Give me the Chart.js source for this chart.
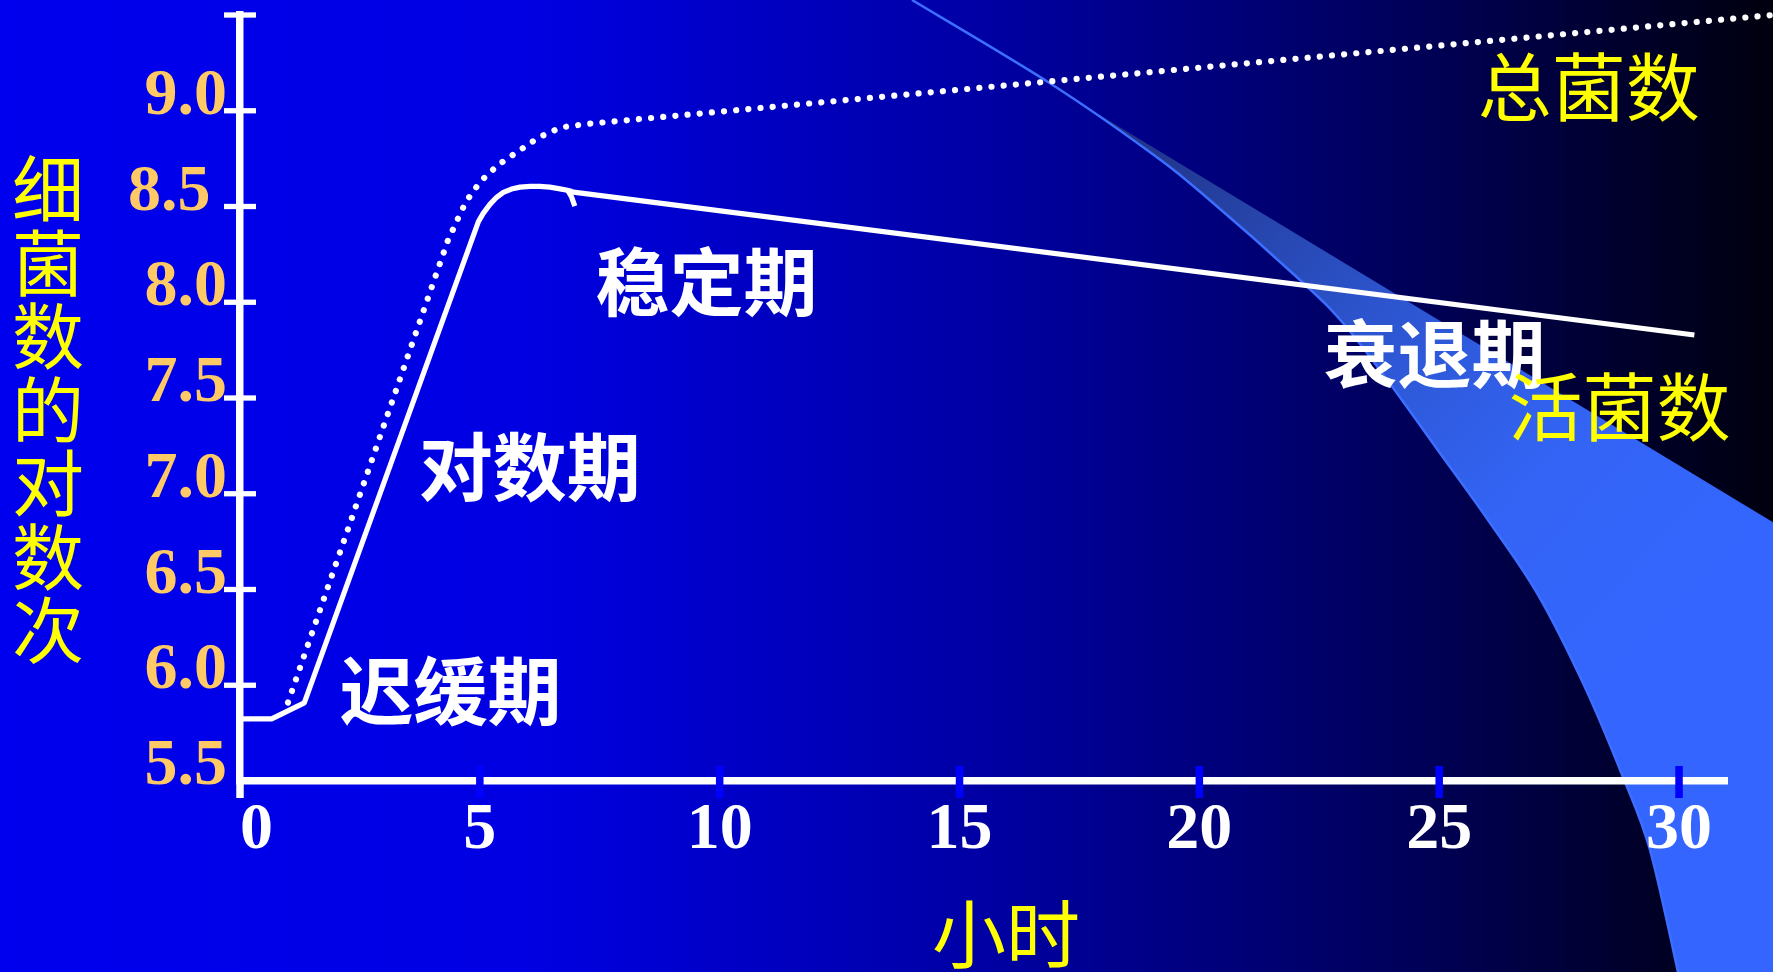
<!DOCTYPE html>
<html><head><meta charset="utf-8">
<script src="https://cdn.jsdelivr.net/npm/chart.js@4.4.1/dist/chart.umd.min.js"></script>
<style>html,body{margin:0;padding:0;background:#000;overflow:hidden}canvas{display:block}</style>
</head><body>
<canvas id="c" width="1773" height="972"></canvas>
<script>
// ---------- data ----------
const viableHours = [0, 0.66, 1.34, 4.97, 5.07, 5.21, 5.35, 5.49, 5.66, 5.84, 6.05, 6.25, 6.46, 6.67, 6.88, 6.95, 30.32];
const viableLog   = [5.824, 5.824, 5.908, 8.421, 8.464, 8.511, 8.548, 8.574, 8.591, 8.601, 8.605, 8.605, 8.601, 8.592, 8.582, 8.575, 7.829];
const hookHours   = [6.84, 6.91, 6.98];
const hookLog     = [8.581, 8.551, 8.502];
const totalHours  = [1.0, 4.33, 4.55, 4.71, 5.01, 5.38, 5.81, 6.23, 6.69, 7.18, 31.95];
const totalLog    = [5.91, 8.32, 8.44, 8.525, 8.63, 8.717, 8.79, 8.861, 8.913, 8.93, 9.50];
const xTicks      = [0, 5, 10, 15, 20, 25, 30];
const xTickLabels = ['0', '5', '10', '15', '20', '25', '30'];
const yTicks      = [5.5, 6.0, 6.5, 7.0, 7.5, 8.0, 8.5, 9.0, 9.5];
const yTickLabels = ['5.5', '6.0', '6.5', '7.0', '7.5', '8.0', '8.5', '9.0', ''];
const seriesNames = ['总菌数', '活菌数'];
const phaseNames  = ['迟缓期', '对数期', '稳定期', '衰退期'];
const xTitle = '小时';
const yTitle = '细菌数的对数次';

// ---------- layout (label anchors in axis units) ----------
const phaseAnchors  = [[4.39, 5.97], [6.04, 7.142], [9.725, 8.108], [24.9, 7.732]];
const seriesAnchors = [[28.12, 9.124], [28.76, 7.453]];

const pts = (xs, ys) => xs.map((x, i) => ({x, y: ys[i]}));

function smoothPath(ctx, p) {
  ctx.moveTo(p[0][0], p[0][1]);
  for (let i = 0; i < p.length - 1; i++) {
    const p0 = p[Math.max(i - 1, 0)], p1 = p[i], p2 = p[i + 1], p3 = p[Math.min(i + 2, p.length - 1)];
    ctx.bezierCurveTo(p1[0] + (p2[0] - p0[0]) / 6, p1[1] + (p2[1] - p0[1]) / 6,
                      p2[0] - (p3[0] - p1[0]) / 6, p2[1] - (p3[1] - p1[1]) / 6, p2[0], p2[1]);
  }
}

const backdrop = {
  id: 'backdrop',
  beforeDraw(chart) {
    const {ctx, width: W, height: H} = chart;
    ctx.save();
    const g = ctx.createLinearGradient(0, 0, W, 0);
    g.addColorStop(0, 'rgb(0,0,238)');
    g.addColorStop(0.3, 'rgb(0,0,226)');
    g.addColorStop(0.55, 'rgb(0,0,165)');
    g.addColorStop(0.8, 'rgb(0,0,88)');
    g.addColorStop(1, 'rgb(0,0,14)');
    ctx.fillStyle = g;
    ctx.fillRect(0, 0, W, H);
    // decorative swoosh (slide artwork)
    const L = [[912,0],[1048,82],[1147,150],[1205,196],[1300,280],[1343,323],[1388,381],[1437,449],[1488,520],[1537,593],[1583,683],[1623,777],[1650,850],[1678,972]];
    ctx.save();
    ctx.beginPath();
    smoothPath(ctx, L);
    ctx.lineTo(W, H); ctx.lineTo(W, 0); ctx.closePath();
    ctx.clip();
    const ry = x => 100 + (x - 1075) * 0.605;
    ctx.beginPath();
    ctx.moveTo(800, ry(800)); ctx.lineTo(W, ry(W)); ctx.lineTo(W, H); ctx.lineTo(800, H); ctx.closePath();
    const bg = ctx.createLinearGradient(1075, 100, 1650, 650);
    bg.addColorStop(0, 'rgb(30,45,120)');
    bg.addColorStop(0.45, 'rgb(44,84,205)');
    bg.addColorStop(0.75, 'rgb(51,100,245)');
    bg.addColorStop(1, 'rgb(52,102,255)');
    ctx.fillStyle = bg;
    ctx.fill();
    ctx.restore();
    ctx.beginPath();
    smoothPath(ctx, L);
    ctx.strokeStyle = 'rgb(60,110,255)';
    ctx.lineWidth = 2.5;
    ctx.stroke();
    ctx.restore();
  }
};

const axisMarks = {
  id: 'axisMarks',
  beforeDatasetsDraw(chart) {
    const {ctx, chartArea: a, scales: {x, y}} = chart;
    ctx.save();
    ctx.strokeStyle = '#ffffff';
    ctx.lineWidth = 7.5;
    ctx.beginPath(); ctx.moveTo(a.left, a.bottom); ctx.lineTo(a.left, a.bottom + 17); ctx.stroke();
    ctx.lineWidth = 5.3;
    y.ticks.forEach(t => {
      if (t.value <= y.min) return;
      const py = y.getPixelForValue(t.value);
      ctx.beginPath(); ctx.moveTo(a.left - 16, py); ctx.lineTo(a.left + 16, py); ctx.stroke();
    });
    ctx.strokeStyle = '#0000ff';
    ctx.lineWidth = 7.5;
    x.ticks.forEach(t => {
      if (t.value <= x.min) return;
      const px = x.getPixelForValue(t.value);
      ctx.beginPath(); ctx.moveTo(px, a.bottom - 15); ctx.lineTo(px, a.bottom + 17); ctx.stroke();
    });
    ctx.restore();
  }
};

const textLayer = {
  id: 'textLayer',
  afterDatasetsDraw(chart) {
    const {ctx, scales: {x, y}} = chart;
    ctx.save();
    ctx.textAlign = 'center';
    ctx.textBaseline = 'middle';
    ctx.font = 'bold 74px "Noto Sans CJK SC"';
    ctx.fillStyle = '#ffffff';
    phaseNames.forEach((t, i) => ctx.fillText(t, x.getPixelForValue(phaseAnchors[i][0]), y.getPixelForValue(phaseAnchors[i][1])));
    ctx.font = '74px "Noto Sans CJK SC"';
    ctx.fillStyle = '#ffff00';
    seriesNames.forEach((t, i) => ctx.fillText(t, x.getPixelForValue(seriesAnchors[i][0]), y.getPixelForValue(seriesAnchors[i][1])));
    ctx.fillText(xTitle, 1006, 934);
    ctx.font = '72px "Noto Sans CJK SC"';
    Array.from(yTitle).forEach((ch, i) => ctx.fillText(ch, 48, 189 + i * 73.5));
    ctx.restore();
  }
};

const tickFont = {family: '"Liberation Serif", "Times New Roman", serif', size: 66, weight: 'bold', lineHeight: 1.2};

new Chart(document.getElementById('c'), {
  type: 'line',
  data: {
    datasets: [
      {label: seriesNames[0], data: pts(totalHours, totalLog), borderColor: '#ffffff', borderWidth: 6.2,
       borderDash: [0.01, 12.2], borderCapStyle: 'round', pointRadius: 0, tension: 0, clip: false},
      {label: seriesNames[1], data: pts(viableHours, viableLog), borderColor: '#ffffff', borderWidth: 5.2,
       borderJoinStyle: 'round', pointRadius: 0, tension: 0},
      {label: 'hook', data: pts(hookHours, hookLog), borderColor: '#ffffff', borderWidth: 5.2,
       borderJoinStyle: 'round', pointRadius: 0, tension: 0}
    ]
  },
  options: {
    responsive: false,
    animation: false,
    layout: {padding: {left: 0, top: 15, right: 46, bottom: 0}},
    plugins: {legend: {display: false}, tooltip: {enabled: false}},
    scales: {
      x: {
        type: 'linear', min: 0, max: 31,
        afterBuildTicks: s => { s.ticks = xTicks.map(v => ({value: v})); },
        afterFit: s => { s.height = 191; s.paddingLeft = 0; s.paddingRight = 0; },
        grid: {display: true, drawOnChartArea: false, drawTicks: false},
        border: {display: true, color: '#ffffff', width: 7.5},
        ticks: {
          autoSkip: false, maxRotation: 0, padding: 10, color: '#ffffff', font: tickFont,
          callback: (v) => { const t = xTickLabels[xTicks.indexOf(v)]; return t === '0' ? '  ' + t : t; }
        }
      },
      y: {
        type: 'linear', min: 5.5, max: 9.5,
        afterBuildTicks: s => { s.ticks = yTicks.map(v => ({value: v})); },
        afterFit: s => { s.width = 240; s.paddingTop = 0; s.paddingBottom = 0; },
        grid: {display: true, drawOnChartArea: false, drawTicks: false},
        border: {display: true, color: '#ffffff', width: 7.5},
        ticks: {
          autoSkip: false, padding: 13, labelOffset: -14, color: '#FFC966', font: tickFont,
          callback: (v) => { const t = yTickLabels[yTicks.indexOf(v)]; return t === '8.5' ? t + ' ' : t; }
        }
      }
    }
  },
  plugins: [backdrop, axisMarks, textLayer]
});
</script>
</body></html>
